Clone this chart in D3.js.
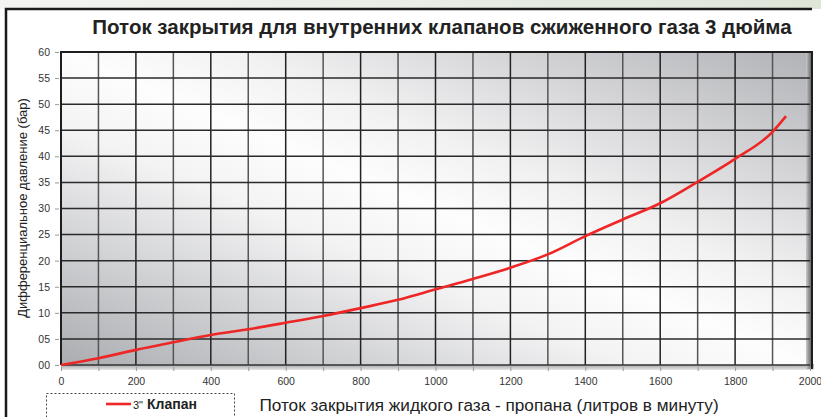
<!DOCTYPE html>
<html>
<head>
<meta charset="utf-8">
<script src="https://cdn.jsdelivr.net/npm/d3@7"></script>
<style>
    body { margin: 0; background: #ffffff; }
    svg { display: block; font-family: 'Liberation Sans', Arial, sans-serif; }
</style>
</head>
<body>
<script>
// data
const flow = [0, 100, 200, 300, 400, 500, 600, 700, 800, 900, 1000, 1100, 1200, 1300, 1400, 1500, 1600, 1700, 1800, 1900, 1936]
const pressure = [0, 1.3, 2.9, 4.35, 5.75, 6.85, 8.1, 9.4, 10.9, 12.5, 14.5, 16.5, 18.65, 21.2, 24.7, 27.9, 31.0, 35.1, 39.5, 44.7, 47.7]
const xTicks = d3.range(0, 2001, 200)
const yTicks = d3.range(0, 61, 5)
const title = 'Поток закрытия для внутренних клапанов сжиженного газа 3 дюйма'
const xTitle = 'Поток закрытия жидкого газа - пропана (литров в минуту)'
const yTitle = 'Дифференциальное давление (бар)'
const seriesName = 'Клапан'

const width = 821
const height = 417
const plot = {left: 61, right: 810, top: 52, bottom: 365}

const svg = d3.select('body').append('svg')
    .attr('width', width)
    .attr('height', height)

// background gradient: light along the top-left -> bottom-right diagonal
const cx = (plot.left + plot.right) / 2
const cy = (plot.top + plot.bottom) / 2
const dx = plot.right - plot.left
const dy = plot.bottom - plot.top
const len = Math.hypot(dx, dy)
const ux = dy / len, uy = -dx / len
const reach = Math.abs((plot.left - cx) * ux + (plot.bottom - cy) * uy)

const defs = svg.append('defs')
let bg = defs.append('linearGradient')
    .attr('id', 'plot-bg')
    .attr('gradientUnits', 'userSpaceOnUse')
    .attr('x1', cx - reach * ux).attr('y1', cy - reach * uy)
    .attr('x2', cx + reach * ux).attr('y2', cy + reach * uy)
bg.append('stop').attr('offset', 0).attr('stop-color', '#aaacb0')
bg.append('stop').attr('offset', 0.38).attr('stop-color', '#f3f3f4')
bg.append('stop').attr('offset', 0.5).attr('stop-color', '#fdfdfd')
bg.append('stop').attr('offset', 0.62).attr('stop-color', '#f1f1f2')
bg.append('stop').attr('offset', 1).attr('stop-color', '#b1b2b6')

let sideShade = defs.append('linearGradient')
    .attr('id', 'side-shade')
    .attr('x1', 0).attr('y1', 0).attr('x2', 1).attr('y2', 0)
sideShade.append('stop').attr('offset', 0).attr('stop-color', '#c8c9cc')
sideShade.append('stop').attr('offset', 1).attr('stop-color', '#5a5a5c')

let bottomShade = defs.append('linearGradient')
    .attr('id', 'bottom-shade')
    .attr('x1', 0).attr('y1', 0).attr('x2', 0).attr('y2', 1)
bottomShade.append('stop').attr('offset', 0).attr('stop-color', '#9c9da0')
bottomShade.append('stop').attr('offset', 1).attr('stop-color', '#e6e6e8')

let topBand = defs.append('linearGradient')
    .attr('id', 'top-band')
    .attr('x1', 0).attr('y1', 0).attr('x2', 1).attr('y2', 0)
topBand.append('stop').attr('offset', 0).attr('stop-color', '#f4f5f3')
topBand.append('stop').attr('offset', 1).attr('stop-color', '#dfe6d8')

// outer frame
svg.append('rect')
    .attr('x', 0).attr('y', 0)
    .attr('width', width).attr('height', 9)
    .attr('fill', 'url(#top-band)')
svg.append('path')
    .attr('d', `M6,${height + 5} V9 H812`)
    .attr('fill', 'none')
    .attr('stroke', '#1a1a1a')
    .attr('stroke-width', 2.5)

// scales
const x = d3.scaleLinear().domain([0, 2000]).range([plot.left, plot.right])
const y = d3.scaleLinear().domain([0, 60]).range([plot.bottom, plot.top])

// plot background with bevel
svg.append('rect')
    .attr('x', plot.left).attr('y', plot.bottom - 1)
    .attr('width', plot.right - plot.left + 4).attr('height', 6)
    .attr('fill', 'url(#bottom-shade)')
svg.append('rect')
    .attr('x', plot.left).attr('y', plot.top)
    .attr('width', plot.right - plot.left).attr('height', plot.bottom - plot.top)
    .attr('fill', 'url(#plot-bg)')
svg.append('rect')
    .attr('x', plot.right - 4).attr('y', plot.top)
    .attr('width', 6).attr('height', plot.bottom - plot.top + 4)
    .attr('fill', 'url(#side-shade)')

// grid
svg.append('g')
    .selectAll('line')
    .data(d3.range(100, 2000, 100))
    .join('line')
    .attr('x1', d => x(d)).attr('x2', d => x(d))
    .attr('y1', plot.top).attr('y2', plot.bottom)
    .attr('stroke', d => d % 200 == 0 ? '#222' : '#555')
    .attr('stroke-width', 1.5)

svg.append('g')
    .selectAll('line')
    .data(yTicks.filter(d => d > 0 && d < 60))
    .join('line')
    .attr('x1', plot.left).attr('x2', plot.right)
    .attr('y1', d => y(d)).attr('y2', d => y(d))
    .attr('stroke', '#2a2a2a')
    .attr('stroke-width', 1.5)

// plot border
svg.append('path')
    .attr('d', `M${plot.left},${plot.bottom} V${plot.top} H${plot.right + 2} V${plot.bottom + 4}`)
    .attr('fill', 'none')
    .attr('stroke', '#1e1e1e')
    .attr('stroke-width', 2)
svg.append('line')
    .attr('x1', plot.left).attr('x2', plot.right)
    .attr('y1', plot.bottom).attr('y2', plot.bottom)
    .attr('stroke', '#333')
    .attr('stroke-width', 1.5)

// axes
const xAxis = d3.axisBottom(x)
    .tickValues(d3.range(0, 2001, 100))
    .tickSize(4)
    .tickFormat(d => xTicks.includes(d) ? d : '')
let gx = svg.append('g')
    .attr('transform', `translate(0,${plot.bottom + 2})`)
    .call(xAxis)
gx.select('.domain').remove()
gx.selectAll('.tick line').attr('stroke', '#999')
gx.selectAll('.tick text')
    .attr('dy', '1.05em')
    .attr('font-size', 10.5)
    .attr('fill', '#333')

const yAxis = d3.axisLeft(y)
    .tickValues(yTicks)
    .tickSize(4)
    .tickFormat(d3.format('02d'))
let gy = svg.append('g')
    .attr('transform', `translate(${plot.left - 2},0)`)
    .call(yAxis)
gy.select('.domain').remove()
gy.selectAll('.tick line').attr('stroke', '#999')
gy.selectAll('.tick text')
    .attr('x', -9)
    .attr('font-size', 10.5)
    .attr('fill', '#333')

// series line
const line = d3.line()
    .x((d, i) => x(flow[i]))
    .y(d => y(d))
    .curve(d3.curveMonotoneX)
svg.append('path')
    .datum(pressure)
    .attr('d', line)
    .attr('fill', 'none')
    .attr('stroke', '#ee2626')
    .attr('stroke-width', 2.6)

// titles
svg.append('text')
    .attr('x', 442).attr('y', 34)
    .attr('text-anchor', 'middle')
    .attr('font-size', 20.5)
    .attr('font-weight', 'bold')
    .attr('fill', '#222')
    .text(title)

svg.append('text')
    .attr('x', 489).attr('y', 411)
    .attr('text-anchor', 'middle')
    .attr('font-size', 17.2)
    .attr('fill', '#222')
    .text(xTitle)

svg.append('text')
    .attr('transform', `translate(27,${208}) rotate(-90)`)
    .attr('text-anchor', 'middle')
    .attr('font-size', 13)
    .attr('fill', '#222')
    .text(yTitle)

// legend
svg.append('rect')
    .attr('x', 46.5).attr('y', 393.5)
    .attr('width', 188).attr('height', 30)
    .attr('fill', 'none')
    .attr('stroke', '#444')
    .attr('stroke-dasharray', '2,2')
svg.append('line')
    .attr('x1', 106).attr('x2', 131)
    .attr('y1', 404).attr('y2', 404)
    .attr('stroke', '#ee2626')
    .attr('stroke-width', 2.6)
let legendText = svg.append('text')
    .attr('x', 133).attr('y', 409)
    .attr('fill', '#222')
legendText.append('tspan')
    .attr('font-size', 11)
    .text('3"')
legendText.append('tspan')
    .attr('dx', 4)
    .attr('font-size', 14)
    .attr('font-weight', 'bold')
    .text(seriesName)
</script>
</body>
</html>
